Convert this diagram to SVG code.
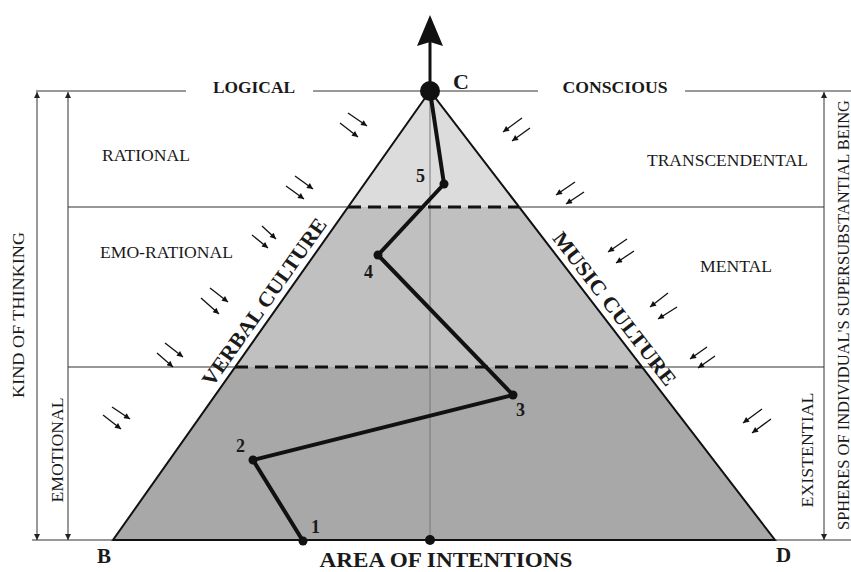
<svg xmlns="http://www.w3.org/2000/svg" width="851" height="572" viewBox="0 0 851 572">
<defs>
<style>
.t{font-family:"Liberation Serif","Times New Roman",serif;fill:#1a1a1a}
.r{font-size:16px}
.b{font-weight:bold}
.g{stroke:#333;stroke-width:1;fill:none}
.sa{stroke:#111;stroke-width:1.3;fill:none;marker-end:url(#ah)}
.va{stroke:#333;stroke-width:1;fill:none;marker-start:url(#vh);marker-end:url(#vh)}
.dash{stroke:#111;stroke-width:3;stroke-dasharray:13 7;fill:none}
.pt{fill:#111}
</style>
<marker id="ah" viewBox="0 0 10 10" refX="10" refY="5" markerWidth="9" markerHeight="6" markerUnits="userSpaceOnUse" orient="auto"><path d="M0,0 L10,5 L0,10 z" fill="#111"/></marker>
<marker id="vh" viewBox="0 0 10 10" refX="10" refY="5" markerWidth="9" markerHeight="6" markerUnits="userSpaceOnUse" orient="auto-start-reverse"><path d="M0,0 L10,5 L0,10 z" fill="#222"/></marker>
</defs>
<rect width="851" height="572" fill="#fff"/>

<g id="pyramid">
<polygon points="430,91 348,207 519,207" fill="#dcdcdc"/>
<polygon points="348,207 519,207 642,367 235,367" fill="#c0c0c0"/>
<polygon points="235,367 642,367 775,540 113,540" fill="#a8a8a8"/>
<line x1="430" y1="91" x2="430" y2="540" stroke="#777" stroke-width="1"/>
<line class="dash" x1="348" y1="207" x2="519" y2="207"/>
<line class="dash" x1="235" y1="367" x2="642" y2="367"/>
<polygon points="430,91 113,540 775,540" fill="none" stroke="#111" stroke-width="2" stroke-linejoin="miter"/>
</g>

<g id="guides">
<line class="g" x1="36" y1="91" x2="186" y2="91"/>
<line class="g" x1="313" y1="91" x2="538" y2="91"/>
<line class="g" x1="685" y1="91" x2="851" y2="91"/>
<line class="g" x1="68" y1="207" x2="348" y2="207"/>
<line class="g" x1="519" y1="207" x2="824" y2="207"/>
<line class="g" x1="68" y1="367" x2="235" y2="367"/>
<line class="g" x1="642" y1="367" x2="824" y2="367"/>
<line class="g" x1="32" y1="540" x2="113" y2="540"/>
<line class="g" x1="775" y1="540" x2="851" y2="540"/>
<line class="va" x1="37" y1="92" x2="37" y2="540"/>
<line class="va" x1="68" y1="92" x2="68" y2="540"/>
<line class="va" x1="824" y1="92" x2="824" y2="540"/>
</g>

<g id="connectors">
<polyline points="303,541 253,460 513,395 378,255 444,184 430,91" fill="none" stroke="#111" stroke-width="4" stroke-linejoin="round"/>
<line x1="430" y1="91" x2="430" y2="42" stroke="#111" stroke-width="3"/>
<polygon points="430,15 443,46 430,42 417,46" fill="#111"/>
<line class="sa" x1="348" y1="113" x2="367" y2="126"/>
<line class="sa" x1="340" y1="123" x2="358" y2="137"/>
<line class="sa" x1="295" y1="176" x2="313" y2="189"/>
<line class="sa" x1="286" y1="186" x2="304" y2="199"/>
<line class="sa" x1="262" y1="226" x2="276" y2="239"/>
<line class="sa" x1="252" y1="235" x2="268" y2="248"/>
<line class="sa" x1="210" y1="288" x2="228" y2="302"/>
<line class="sa" x1="201" y1="298" x2="219" y2="314"/>
<line class="sa" x1="165" y1="343" x2="183" y2="357"/>
<line class="sa" x1="157" y1="353" x2="173" y2="367"/>
<line class="sa" x1="112" y1="407" x2="130" y2="419"/>
<line class="sa" x1="103" y1="415" x2="121" y2="429"/>
<line class="sa" x1="522" y1="118" x2="503" y2="132"/>
<line class="sa" x1="530" y1="128" x2="512" y2="141"/>
<line class="sa" x1="575" y1="182" x2="556" y2="195"/>
<line class="sa" x1="584" y1="192" x2="566" y2="204"/>
<line class="sa" x1="627" y1="239" x2="608" y2="252"/>
<line class="sa" x1="634" y1="251" x2="616" y2="263"/>
<line class="sa" x1="668" y1="293" x2="650" y2="307"/>
<line class="sa" x1="677" y1="307" x2="658" y2="319"/>
<line class="sa" x1="707" y1="347" x2="690" y2="359"/>
<line class="sa" x1="715" y1="356" x2="698" y2="368"/>
<line class="sa" x1="762" y1="409" x2="743" y2="423"/>
<line class="sa" x1="771" y1="419" x2="752" y2="433"/>
</g>

<g id="point-C"><circle class="pt" cx="430" cy="91" r="10"/><text class="t b" x="453" y="89" font-size="22">C</text></g>
<g id="point-1"><circle class="pt" cx="303" cy="541" r="4.5"/><text class="t b" x="311" y="533" font-size="18">1</text></g>
<g id="point-2"><circle class="pt" cx="253" cy="460" r="4.5"/><text class="t b" x="236" y="452" font-size="18">2</text></g>
<g id="point-3"><circle class="pt" cx="513" cy="395" r="4.5"/><text class="t b" x="516" y="416" font-size="18">3</text></g>
<g id="point-4"><circle class="pt" cx="378" cy="255" r="4.5"/><text class="t b" x="364" y="278" font-size="18">4</text></g>
<g id="point-5"><circle class="pt" cx="444" cy="184" r="4.5"/><text class="t b" x="416" y="182" font-size="18">5</text></g>
<g id="point-mid"><circle class="pt" cx="430" cy="540" r="5"/></g>
<g id="point-B"><text class="t b" x="97" y="563" font-size="21">B</text></g>
<g id="point-D"><text class="t b" x="776" y="562" font-size="21">D</text></g>

<g id="labels">
<text class="t b" x="254" y="93" font-size="16" text-anchor="middle" textLength="82" lengthAdjust="spacingAndGlyphs">LOGICAL</text>
<text class="t b" x="615" y="93" font-size="16" text-anchor="middle" textLength="105" lengthAdjust="spacingAndGlyphs">CONSCIOUS</text>
<text class="t r" x="102" y="161" textLength="88" lengthAdjust="spacingAndGlyphs">RATIONAL</text>
<text class="t r" x="647" y="166" textLength="161" lengthAdjust="spacingAndGlyphs">TRANSCENDENTAL</text>
<text class="t r" x="100" y="258" textLength="133" lengthAdjust="spacingAndGlyphs">EMO-RATIONAL</text>
<text class="t r" x="700" y="272" textLength="72" lengthAdjust="spacingAndGlyphs">MENTAL</text>
<text class="t r" transform="translate(24,315) rotate(-90)" text-anchor="middle" textLength="166" lengthAdjust="spacingAndGlyphs">KIND OF THINKING</text>
<text class="t r" transform="translate(63,450) rotate(-90)" text-anchor="middle" textLength="105" lengthAdjust="spacingAndGlyphs">EMOTIONAL</text>
<text class="t r" transform="translate(813,450) rotate(-90)" text-anchor="middle" textLength="115" lengthAdjust="spacingAndGlyphs">EXISTENTIAL</text>
<text class="t r" transform="translate(849,315) rotate(-90)" text-anchor="middle" font-size="15" textLength="430" lengthAdjust="spacingAndGlyphs">SPHERES OF INDIVIDUAL'S SUPERSUBSTANTIAL BEING</text>
<text class="t b" transform="translate(270,306) rotate(-54.8)" text-anchor="middle" font-size="21" textLength="200" lengthAdjust="spacingAndGlyphs">VERBAL CULTURE</text>
<text class="t b" transform="translate(609,313) rotate(52.45)" text-anchor="middle" font-size="21" textLength="188" lengthAdjust="spacingAndGlyphs">MUSIC CULTURE</text>
<text class="t b" x="446" y="567" font-size="20" text-anchor="middle" textLength="253" lengthAdjust="spacingAndGlyphs">AREA OF INTENTIONS</text>
</g>
</svg>
